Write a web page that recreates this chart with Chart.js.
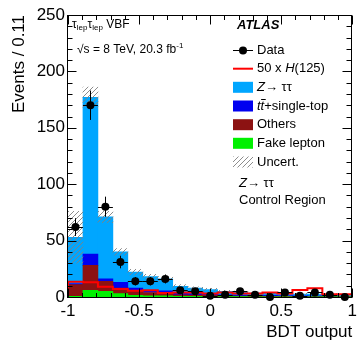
<!DOCTYPE html>
<html>
<head>
<meta charset="utf-8">
<script src="https://cdn.jsdelivr.net/npm/chart.js@4.4.0/dist/chart.umd.min.js"></script>
<style>
  html, body { margin: 0; padding: 0; background: #fff; }
</style>
</head>
<body>
<canvas id="chart" width="361" height="347"></canvas>
<script>
// binning: 19 bins between -1 and 1
const binLow = -1, binHigh = 1, nBins = 19;
const binWidth = (binHigh - binLow) / nBins;
const binCenters = Array.from({length: nBins}, (_, i) => binLow + (i + 0.5) * binWidth);
const binEdges = Array.from({length: nBins + 1}, (_, i) => binLow + i * binWidth);

// values
const dataCounts = [62, 170, 80, 31, 14, 14, 16, 6, 5, 1, 2, 5, 2, 0, 4, 1, 4, 2, 0];
const zttVals    = [41, 139, 55, 27, 14, 12, 10.5, 6, 4.8, 4, 3, 2.4, 2, 1.8, 1.7, 1.5, 1.6, 1.4, 1];
const ttbarVals  = [1, 10, 2, 5, 2.5, 2, 2, 1.5, 1.3, 1.2, 1, 0.9, 0.8, 0.8, 0.7, 0.6, 0.6, 0.5, 0.4];
const othersVals = [10.5, 22, 9, 5, 4, 3, 2.5, 1.5, 1.2, 1, 0.7, 0.6, 0.5, 0.4, 0.4, 0.3, 0.3, 0.3, 0.2];
const fakeVals   = [0.5, 6, 5, 3, 1.5, 1, 1, 0.5, 0.5, 0.4, 0.3, 0.3, 0.2, 0.2, 0.2, 0.2, 0.1, 0.1, 0.1];
const uncertVals = [23, 9, 5, 3, 2.5, 2, 2, 1.5, 1.2, 1, 1, 1, 0.8, 0.8, 0.8, 0.7, 0.7, 0.7, 0.6];
const higgs50Vals = [1, 13.6, 13, 9, 7, 5.5, 6, 3.5, 4, 4, 3.2, 4, 3.2, 3.2, 4.1, 3.2, 6.2, 7.7, 2.4];

const FONT = "'Liberation Sans', Arial, Helvetica, sans-serif";
const colZtt = '#00a6ff', colTtbar = '#0000f0', colOthers = '#8c1212', colFake = '#00f000';

function hatchPattern() {
    const c = document.createElement('canvas');
    c.width = 5; c.height = 5;
    const g = c.getContext('2d');
    g.strokeStyle = '#808080';
    g.lineWidth = 0.9;
    g.beginPath();
    g.moveTo(0, 5); g.lineTo(5, 0);
    g.moveTo(-1, 1); g.lineTo(1, -1);
    g.moveTo(4, 6); g.lineTo(6, 4);
    g.stroke();
    return g.createPattern(c, 'repeat');
}
const hatch = hatchPattern();

// stacked MC as floating bars, bottom to top
const layers = [
    {vals: fakeVals, color: colFake},
    {vals: othersVals, color: colOthers},
    {vals: ttbarVals, color: colTtbar},
    {vals: zttVals, color: colZtt}
];
const totals = new Array(nBins).fill(0);
const mcSets = layers.map((l, k) => {
    const pts = l.vals.map((v, i) => {
        const lo = totals[i];
        totals[i] += v;
        return {x: binCenters[i], y: [lo, totals[i]]};
    });
    return {
        type: 'bar', data: pts, backgroundColor: l.color, borderWidth: 0,
        grouped: false, barPercentage: 1, categoryPercentage: 1, order: 10 + k
    };
});

const uncertSet = {
    type: 'bar',
    data: uncertVals.map((e, i) => ({x: binCenters[i], y: [Math.max(0, totals[i] - e), totals[i] + e]})),
    backgroundColor: hatch, borderWidth: 0,
    grouped: false, barPercentage: 1, categoryPercentage: 1, order: 5
};

const higgsPts = higgs50Vals.map((v, i) => ({x: binEdges[i], y: v}));
higgsPts.push({x: binEdges[nBins], y: higgs50Vals[nBins - 1]});
const higgsSet = {
    type: 'line', data: higgsPts, stepped: 'after', borderColor: '#ff0000',
    borderWidth: 2, pointRadius: 0, fill: false, order: 2
};

const dataSet = {
    type: 'scatter', data: dataCounts.map((n, i) => ({x: binCenters[i], y: n})),
    pointRadius: 4, pointBackgroundColor: '#000', pointBorderWidth: 0,
    showLine: false, clip: false, order: 0
};

function richText(ctx, x, y, parts) {
    parts.forEach(p => {
        ctx.font = p.font;
        ctx.fillText(p.t, x, y + (p.dy || 0));
        x += ctx.measureText(p.t).width;
    });
    return x;
}

const overlay = {
    id: 'overlay',
    afterDatasetsDraw(chart) {
        const ctx = chart.ctx, xs = chart.scales.x, ys = chart.scales.y;
        ctx.save();
        ctx.strokeStyle = '#000';
        ctx.lineWidth = 1;
        dataCounts.forEach((n, i) => {
            const px = Math.round(xs.getPixelForValue(binCenters[i])) + 0.5;
            const py = Math.round(ys.getPixelForValue(n)) + 0.5;
            const e = Math.sqrt(n);
            ctx.beginPath();
            ctx.moveTo(xs.getPixelForValue(binEdges[i]), py);
            ctx.lineTo(xs.getPixelForValue(binEdges[i + 1]), py);
            if (e > 0) {
                ctx.moveTo(px, ys.getPixelForValue(n - e));
                ctx.lineTo(px, ys.getPixelForValue(n + e));
            }
            ctx.stroke();
        });
        ctx.restore();
    },
    afterDraw(chart) {
        const ctx = chart.ctx, xs = chart.scales.x, ys = chart.scales.y;
        const {left, right, top, bottom} = chart.chartArea;
        ctx.save();
        ctx.strokeStyle = '#000';
        ctx.lineWidth = 1;
        const L = Math.round(left) - 0.5, R = Math.round(right) - 0.5;
        const T = Math.round(top) + 0.5, B = Math.round(bottom) + 0.5;
        ctx.strokeRect(L, T, R - L, B - T);
        ctx.beginPath();
        // y ticks every 10, major every 50
        for (let v = 0; v <= 250; v += 10) {
            const y = Math.round(ys.getPixelForValue(v)) + 0.5;
            const len = v % 50 === 0 ? 9 : 5;
            ctx.moveTo(L, y); ctx.lineTo(L + len, y);
            ctx.moveTo(R, y); ctx.lineTo(R - len, y);
        }
        // x ticks every 0.1, major every 0.5
        for (let k = 0; k <= 20; k++) {
            const x = Math.round(xs.getPixelForValue(-1 + k * 0.1)) + 0.5;
            const len = k % 5 === 0 ? 9 : 4.5;
            ctx.moveTo(x, B); ctx.lineTo(x, B - len);
            ctx.moveTo(x, T); ctx.lineTo(x, T + len);
        }
        ctx.stroke();

        // legend
        ctx.fillStyle = '#000';
        ctx.textBaseline = 'middle';
        ctx.textAlign = 'left';
        const norm = '13px ' + FONT, ital = 'italic 13px ' + FONT;
        const lx = 233, tx = 257;
        const rows = [50, 68.7, 87.3, 106, 124.7, 143.3, 162];
        ctx.font = 'italic bold 13px ' + FONT;
        ctx.fillText('ATLAS', 237, 25);

        // Data
        ctx.beginPath();
        ctx.moveTo(lx, rows[0] + 0.5); ctx.lineTo(lx + 20, rows[0] + 0.5);
        ctx.stroke();
        ctx.beginPath();
        ctx.arc(lx + 10, rows[0] + 0.5, 4, 0, Math.PI * 2);
        ctx.fill();
        ctx.font = norm;
        ctx.fillText('Data', tx, rows[0]);
        // Higgs
        ctx.strokeStyle = '#ff0000';
        ctx.lineWidth = 2;
        ctx.beginPath();
        ctx.moveTo(lx, rows[1]); ctx.lineTo(lx + 20, rows[1]);
        ctx.stroke();
        richText(ctx, tx, rows[1], [{t: '50 x ', font: norm}, {t: 'H', font: ital}, {t: '(125)', font: norm}]);
        // boxes
        const boxes = [colZtt, colTtbar, colOthers, colFake, hatch];
        boxes.forEach((c, k) => {
            ctx.fillStyle = c;
            ctx.fillRect(lx, rows[2 + k] - 5.5, 20, 11);
        });
        ctx.fillStyle = '#000';
        richText(ctx, tx, rows[2], [{t: 'Z', font: ital}, {t: '\u2192 \u03c4\u03c4', font: norm}]);
        ctx.font = ital;
        const tW = ctx.measureText('t').width;
        richText(ctx, tx, rows[3], [{t: 't', font: ital}, {t: 't', font: ital}, {t: '+single-top', font: norm}]);
        ctx.strokeStyle = '#000';
        ctx.lineWidth = 1;
        ctx.beginPath();
        ctx.moveTo(tx + tW + 0.5, rows[3] - 6.5); ctx.lineTo(tx + 2 * tW + 1.5, rows[3] - 6.5);
        ctx.stroke();
        ctx.font = norm;
        ctx.fillText('Others', tx, rows[4]);
        ctx.fillText('Fake lepton', tx, rows[5]);
        ctx.fillText('Uncert.', tx, rows[6]);

        richText(ctx, 239, 183, [{t: 'Z', font: ital}, {t: '\u2192 \u03c4\u03c4', font: norm}]);
        ctx.font = norm;
        ctx.fillText('Control Region', 239, 200);

        // channel and lumi labels
        const small = '12px ' + FONT, sub = '8px ' + FONT;
        richText(ctx, 72, 25, [
            {t: '\u03c4', font: small}, {t: 'lep', font: sub, dy: 3},
            {t: '\u03c4', font: small}, {t: 'lep', font: sub, dy: 3},
            {t: ' VBF', font: small}
        ]);
        richText(ctx, 77, 50, [
            {t: '\u221as = 8 TeV, 20.3 fb', font: small}, {t: '-1', font: sub, dy: -4}
        ]);
        ctx.restore();
    }
};

const ctx = document.getElementById('chart').getContext('2d');
new Chart(ctx, {
    type: 'bar',
    data: {datasets: [...mcSets, uncertSet, higgsSet, dataSet]},
    options: {
        responsive: false,
        animation: false,
        devicePixelRatio: 1,
        layout: {padding: {top: 15, right: 5, left: 0, bottom: 0}},
        plugins: {legend: {display: false}, tooltip: {enabled: false}},
        scales: {
            x: {
                type: 'linear', min: -1, max: 1, offset: false,
                grid: {display: false, drawTicks: false}, border: {display: false},
                ticks: {stepSize: 0.5, color: '#000', padding: 4, maxRotation: 0, autoSkip: false,
                        font: {size: 17, family: FONT},
                        callback: v => String(Math.round(v * 10) / 10)},
                title: {display: true, text: 'BDT output', align: 'end', color: '#000',
                        font: {size: 17, family: FONT}, padding: {top: 0, bottom: 4}},
                afterFit: s => { s.height = 50; }
            },
            y: {
                min: 0, max: 250,
                grid: {display: false, drawTicks: false}, border: {display: false},
                ticks: {stepSize: 50, color: '#000', padding: 3, font: {size: 17, family: FONT}},
                title: {display: true, text: 'Events / 0.11', align: 'end', color: '#000',
                        font: {size: 17, family: FONT}, padding: {top: 9, bottom: 0}},
                afterFit: s => { s.width = 68; }
            }
        }
    },
    plugins: [overlay]
});
</script>
</body>
</html>
